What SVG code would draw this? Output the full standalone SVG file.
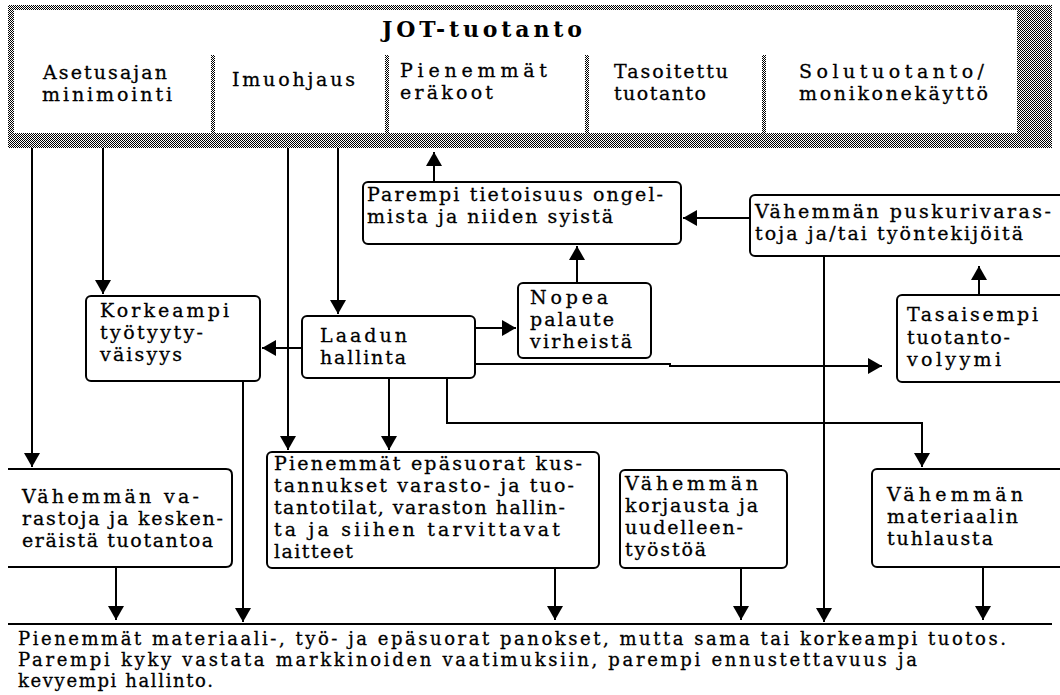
<svg xmlns="http://www.w3.org/2000/svg" width="1060" height="695" viewBox="0 0 1060 695">
  <defs>
    <!-- dithered grey used for the header frame -->
    <pattern id="dither" width="2" height="2" patternUnits="userSpaceOnUse">
      <rect width="2" height="2" fill="#fff"/>
      <rect width="1" height="1" fill="#000"/>
      <rect x="1" y="1" width="1" height="1" fill="#000"/>
    </pattern>
    <marker id="ah" viewBox="0 0 14 16" refX="14" refY="8" markerWidth="14" markerHeight="16" markerUnits="userSpaceOnUse" orient="auto">
      <path d="M0,0 L14,8 L0,16 Z" fill="#000"/>
    </marker>
  </defs>
  <style>
    .box { fill: #fff; stroke: #000; stroke-width: 2; }
    .band { fill: url(#dither); }
    .t { font-family: "DejaVu Serif", "Liberation Serif", serif; font-size: 19px; fill: #000; stroke: #000; stroke-width: 0.3; }
    .title { font-weight: bold; font-size: 22px; stroke-width: 0; }
    .foot { font-size: 18px; }
    .c { fill: none; stroke: #000; stroke-width: 2; }
    .a { marker-end: url(#ah); }
  </style>

  <rect width="1060" height="695" fill="#fff"/>

  <!-- header: JOT production and its five methods -->
  <g id="jot-tuotanto">
    <rect x="8" y="5" width="1044" height="143" fill="#fff"/>
    <rect class="band" x="8" y="5" width="1044" height="5"/>
    <rect class="band" x="8" y="5" width="6" height="143"/>
    <rect class="band" x="1017" y="5" width="35" height="143"/>
    <rect class="band" x="8" y="133" width="1044" height="15"/>
    <rect class="band" x="211" y="55" width="4" height="78"/>
    <rect class="band" x="385" y="55" width="4" height="78"/>
    <rect class="band" x="585" y="55" width="4" height="78"/>
    <rect class="band" x="762" y="55" width="4" height="78"/>
    <text class="t title" x="382" y="37" textLength="200" lengthAdjust="spacing">JOT-tuotanto</text>
    <text class="t" x="43" y="79" textLength="124" lengthAdjust="spacing">Asetusajan</text>
    <text class="t" x="42" y="101" textLength="130" lengthAdjust="spacing">minimointi</text>
    <text class="t" x="232" y="86" textLength="123" lengthAdjust="spacing">Imuohjaus</text>
    <text class="t" x="400" y="77" textLength="147" lengthAdjust="spacing">Pienemmät</text>
    <text class="t" x="400" y="99" textLength="93" lengthAdjust="spacing">eräkoot</text>
    <text class="t" x="614" y="78" textLength="114" lengthAdjust="spacing">Tasoitettu</text>
    <text class="t" x="614" y="100" textLength="92" lengthAdjust="spacing">tuotanto</text>
    <text class="t" x="799" y="78" textLength="185" lengthAdjust="spacing">Solutuotanto/</text>
    <text class="t" x="799" y="100" textLength="189" lengthAdjust="spacing">monikonekäyttö</text>
  </g>

  <g id="parempi-tietoisuus">
    <rect class="box" x="363" y="182" width="318" height="62" rx="5"/>
    <text class="t" x="367" y="201" textLength="296" lengthAdjust="spacing">Parempi tietoisuus ongel-</text>
    <text class="t" x="367" y="223" textLength="246" lengthAdjust="spacing">mista ja niiden syistä</text>
  </g>

  <g id="puskurivarastot">
    <rect class="box" x="750" y="195" width="330" height="61" rx="5"/>
    <text class="t" x="755" y="218" textLength="296" lengthAdjust="spacing">Vähemmän puskurivaras-</text>
    <text class="t" x="755" y="240" textLength="268" lengthAdjust="spacing">toja ja/tai työntekijöitä</text>
  </g>

  <g id="nopea-palaute">
    <rect class="box" x="518" y="283" width="133" height="75" rx="5"/>
    <text class="t" x="530" y="304" textLength="78" lengthAdjust="spacing">Nopea</text>
    <text class="t" x="530" y="326" textLength="84" lengthAdjust="spacing">palaute</text>
    <text class="t" x="530" y="348" textLength="102" lengthAdjust="spacing">virheistä</text>
  </g>

  <g id="tasaisempi-volyymi">
    <rect class="box" x="897" y="295" width="180" height="87" rx="5"/>
    <text class="t" x="907" y="321" textLength="131" lengthAdjust="spacing">Tasaisempi</text>
    <text class="t" x="907" y="344" textLength="103" lengthAdjust="spacing">tuotanto-</text>
    <text class="t" x="907" y="366" textLength="94" lengthAdjust="spacing">volyymi</text>
  </g>

  <g id="korkeampi-tyytyvaisyys">
    <rect class="box" x="86" y="296" width="174" height="85" rx="5"/>
    <text class="t" x="100" y="317" textLength="129" lengthAdjust="spacing">Korkeampi</text>
    <text class="t" x="100" y="339" textLength="103" lengthAdjust="spacing">työtyyty-</text>
    <text class="t" x="100" y="361" textLength="82" lengthAdjust="spacing">väisyys</text>
  </g>

  <g id="laadun-hallinta">
    <rect class="box" x="302" y="316" width="173" height="62" rx="5"/>
    <text class="t" x="320" y="342" textLength="87" lengthAdjust="spacing">Laadun</text>
    <text class="t" x="320" y="364" textLength="86" lengthAdjust="spacing">hallinta</text>
  </g>

  <g id="vahemman-varastoja">
    <path class="box" d="M8,469 H226 Q232,469 232,475 V561 Q232,567 226,567 H8"/>
    <text class="t" x="22" y="503" textLength="177" lengthAdjust="spacing">Vähemmän va-</text>
    <text class="t" x="22" y="525" textLength="201" lengthAdjust="spacing">rastoja ja kesken-</text>
    <text class="t" x="22" y="547" textLength="191" lengthAdjust="spacing">eräistä tuotantoa</text>
  </g>

  <g id="epasuorat-kustannukset">
    <rect class="box" x="267" y="452" width="332" height="116" rx="5"/>
    <text class="t" x="274" y="470" textLength="308" lengthAdjust="spacing">Pienemmät epäsuorat kus-</text>
    <text class="t" x="274" y="492" textLength="300" lengthAdjust="spacing">tannukset varasto- ja tuo-</text>
    <text class="t" x="274" y="514" textLength="291" lengthAdjust="spacing">tantotilat, varaston hallin-</text>
    <text class="t" x="274" y="536" textLength="286" lengthAdjust="spacing">ta ja siihen tarvittavat</text>
    <text class="t" x="274" y="558" textLength="79" lengthAdjust="spacing">laitteet</text>
  </g>

  <g id="korjaus-tyosto">
    <rect class="box" x="620" y="470" width="167" height="98" rx="5"/>
    <text class="t" x="625" y="490" textLength="133" lengthAdjust="spacing">Vähemmän</text>
    <text class="t" x="625" y="512" textLength="133" lengthAdjust="spacing">korjausta ja</text>
    <text class="t" x="625" y="534" textLength="118" lengthAdjust="spacing">uudelleen-</text>
    <text class="t" x="625" y="556" textLength="81" lengthAdjust="spacing">työstöä</text>
  </g>

  <g id="materiaalin-tuhlaus">
    <rect class="box" x="872" y="469" width="200" height="98" rx="5"/>
    <text class="t" x="887" y="501" textLength="136" lengthAdjust="spacing">Vähemmän</text>
    <text class="t" x="887" y="523" textLength="131" lengthAdjust="spacing">materiaalin</text>
    <text class="t" x="887" y="545" textLength="106" lengthAdjust="spacing">tuhlausta</text>
  </g>

  <g id="lopputulos">
    <line x1="8" y1="624" x2="1052" y2="624" stroke="#000" stroke-width="2"/>
    <text class="t foot" x="18" y="645" textLength="988" lengthAdjust="spacing">Pienemmät materiaali-, työ- ja epäsuorat panokset, mutta sama tai korkeampi tuotos.</text>
    <text class="t foot" x="18" y="666" textLength="899" lengthAdjust="spacing">Parempi kyky vastata markkinoiden vaatimuksiin, parempi ennustettavuus ja</text>
    <text class="t foot" x="18" y="687" textLength="195" lengthAdjust="spacing">kevyempi hallinto.</text>
  </g>

  <!-- connectors -->
  <g id="connectors">
    <path class="c a" d="M32,148 V467"/>
    <path class="c a" d="M103,148 V294"/>
    <path class="c a" d="M288,148 V450"/>
    <path class="c a" d="M338,148 V314"/>
    <path class="c a" d="M434,182 V152"/>
    <path class="c a" d="M750,218 H683"/>
    <path class="c a" d="M577,283 V246"/>
    <path class="c a" d="M979,295 V266"/>
    <path class="c a" d="M824,256 V622"/>
    <path class="c a" d="M302,348 H262"/>
    <path class="c a" d="M475,328 H516"/>
    <path class="c a" d="M475,364 H670 V366 H882"/>
    <path class="c a" d="M389,378 V450"/>
    <path class="c a" d="M447,378 V423 H922 V467"/>
    <path class="c a" d="M243,381 V622"/>
    <path class="c a" d="M116,567 V620"/>
    <path class="c a" d="M555,568 V620"/>
    <path class="c a" d="M741,568 V620"/>
    <path class="c a" d="M983,567 V620"/>
  </g>
</svg>
